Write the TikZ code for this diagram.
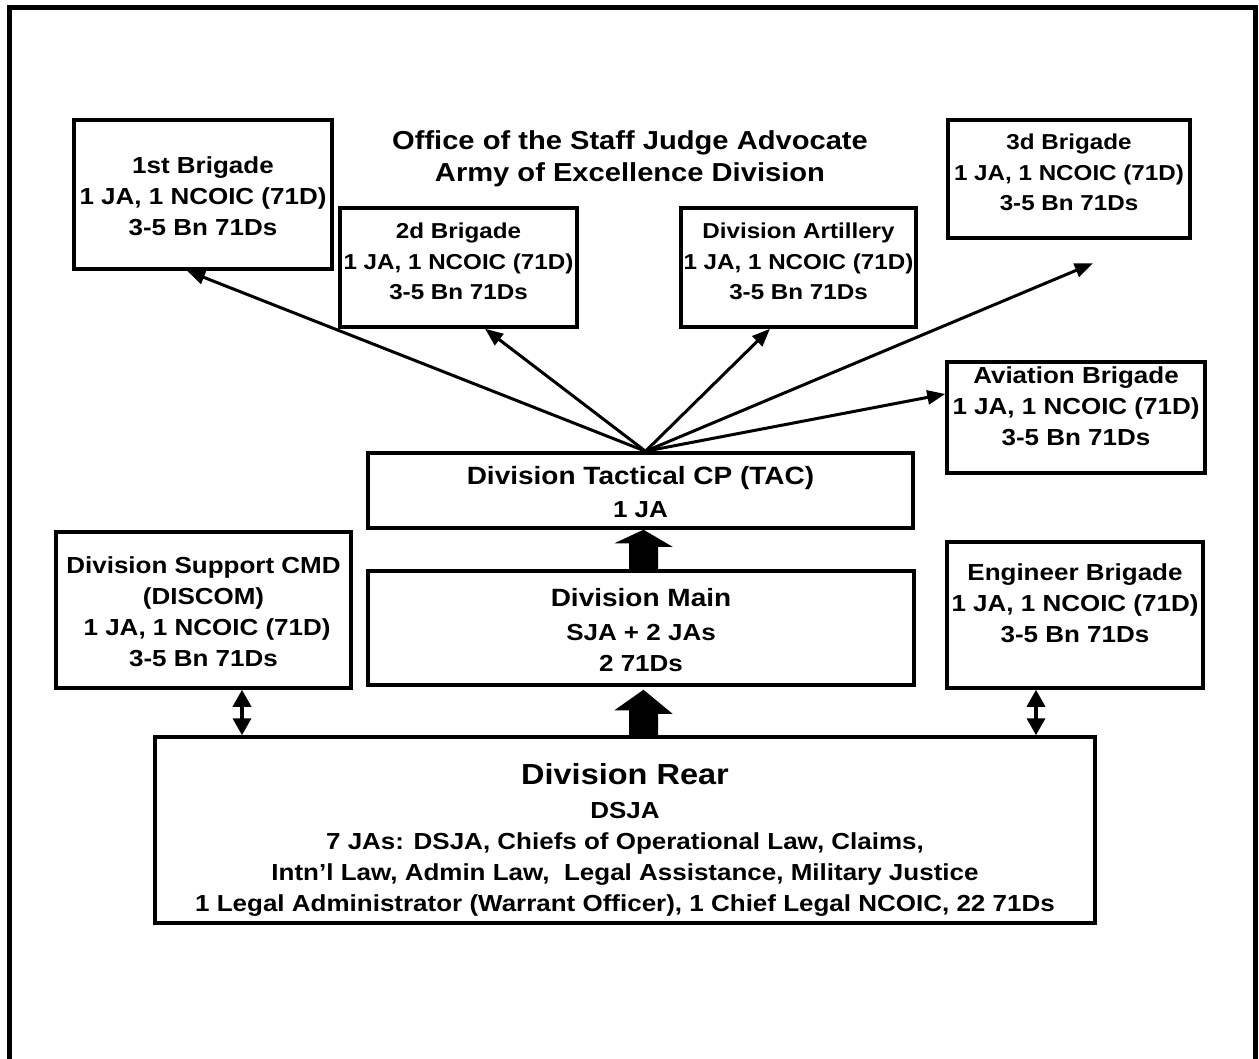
\documentclass[tikz,border=0pt]{standalone}
\usepackage{fontspec}
\setmainfont{Liberation Sans}[FakeStretch=1.12]
\usetikzlibrary{arrows.meta,calc}
\begin{document}
\begin{tikzpicture}[x=1pt,y=-1pt,
  box/.style={draw, line width=3.5pt, rectangle, inner sep=0pt},
  txt/.style={align=center, inner sep=0pt, font=\bfseries\fontsize{23.2}{31}\selectfont},
  smalltxt/.style={txt, font=\bfseries\fontsize{21.6}{30.5}\selectfont},
  con/.style={line width=3pt, -{Triangle[length=18pt,width=14pt]}},
  dbl/.style={line width=3.5pt, {Triangle[length=17pt,width=18pt]}-{Triangle[length=17pt,width=18pt]}}]
\useasboundingbox (0,0) rectangle (1259,1059);
\fill[white] (0,0) rectangle (1259,1059);
% outer frame (bottom edge lies outside the picture)
\draw[line width=5pt] (9.5,1075) -- (9.5,7.5) -- (1255.5,7.5) -- (1255.5,1075);

% boxes
\node[box, minimum width=258pt, minimum height=149pt] (b1)   at (203,194.5) {};
\node[box, minimum width=237pt, minimum height=119pt] (b2)   at (458.5,267.5) {};
\node[box, minimum width=235pt, minimum height=119pt] (art)  at (798.5,267.5) {};
\node[box, minimum width=242pt, minimum height=118pt] (b3)   at (1069,179) {};
\node[box, minimum width=258pt, minimum height=111pt] (av)   at (1076,417.5) {};
\node[box, minimum width=256pt, minimum height=146pt] (eng)  at (1075,615) {};
\node[box, minimum width=295pt, minimum height=156pt] (dis)  at (203.5,610) {};
\node[box, minimum width=545pt, minimum height=75pt]  (tac)  at (640.5,490.5) {};
\node[box, minimum width=546pt, minimum height=114pt] (main) at (641,628) {};
\node[box, minimum width=940pt, minimum height=186pt] (rear) at (625,830) {};

% texts
\node[txt, font=\bfseries\fontsize{26}{31}\selectfont] (title) at (630,158.7)
  {Office of the Staff Judge Advocate\\[1pt]Army of Excellence Division};
\node[txt] (t1) at ($(b1.center)+(0,1.7)$) {1st Brigade\\1 JA, 1 NCOIC (71D)\\3-5 Bn 71Ds};
\node[smalltxt] (t2) at ($(b2.center)+(0,-6.1)$) {2d Brigade\\1 JA, 1 NCOIC (71D)\\3-5 Bn 71Ds};
\node[smalltxt] (tart) at ($(art.center)+(0,-6.1)$) {Division Artillery\\1 JA, 1 NCOIC (71D)\\3-5 Bn 71Ds};
\node[smalltxt] (t3) at ($(b3.center)+(0,-6.5)$) {3d Brigade\\1 JA, 1 NCOIC (71D)\\3-5 Bn 71Ds};
\node[txt] (tav) at ($(av.center)+(0,-11.3)$) {Aviation Brigade\\1 JA, 1 NCOIC (71D)\\3-5 Bn 71Ds};
\node[txt] (teng) at ($(eng.center)+(0,-11.5)$) {Engineer Brigade\\1 JA, 1 NCOIC (71D)\\3-5 Bn 71Ds};
\node[txt] (tdis) at ($(dis.center)+(0,1.7)$) {Division Support CMD\\(DISCOM)\\~1 JA, 1 NCOIC (71D)\\3-5 Bn 71Ds};
\node[txt] (ttac) at ($(tac.center)+(0,1.9)$) {{\fontsize{25}{31}\selectfont Division Tactical CP (TAC)}\\[2pt]1 JA};
\node[txt] (tmain) at ($(main.center)+(0,1.6)$) {{\fontsize{25}{31}\selectfont Division Main}\\[3pt]SJA + 2 JAs\\2 71Ds};
\node[txt] (trear) at ($(rear.center)+(0,9.7)$) {{\fontsize{29}{31}\selectfont Division Rear}\\[2.6pt]DSJA\\7 JAs: DSJA, Chiefs of Operational Law, Claims,\\Intn’l Law, Admin Law,~ Legal Assistance, Military Justice\\1 Legal Administrator (Warrant Officer), 1 Chief Legal NCOIC, 22 71Ds};

% fan of arrows from the TAC
\coordinate (apex) at ($(tac.north)+(5,0)$);
\draw[con] (apex) -- ($(b1.south)+(-16,0)$);
\draw[con] (apex) -- ($(b2.south)+(26.5,0)$);
\draw[con] (apex) -- ($(art.south)+(-28.5,0)$);
\draw[con, shorten >=61pt] (apex) -- ($(b3.south)+(80,0)$);
\draw[con] (apex) -- ($(av.west)+(0,-23.5)$);

% double arrows
\coordinate (dx) at (242,0);
\coordinate (ex) at (1036,0);
\draw[dbl] (dis.south -| dx) -- (rear.north -| dx);
\draw[dbl] (eng.south -| ex) -- (rear.north -| ex);

% block arrows
\coordinate (ax) at (643.5,0);
\fill (tac.south -| ax) -- ++(29,17) -- ++(-14.5,0) -- ($(main.north -| ax)+(14.5,0)$)
  -- ($(main.north -| ax)+(-14.5,0)$) -- ++(0,-26) -- ++(-14.5,0) -- cycle;
\fill ($(main.south -| ax)+(0,3)$) -- ++(29,24) -- ++(-14.5,0) -- ($(rear.north -| ax)+(14.5,0)$)
  -- ($(rear.north -| ax)+(-14.5,0)$) -- ++(0,-25) -- ++(-14.5,0) -- cycle;
\end{tikzpicture}
\end{document}
